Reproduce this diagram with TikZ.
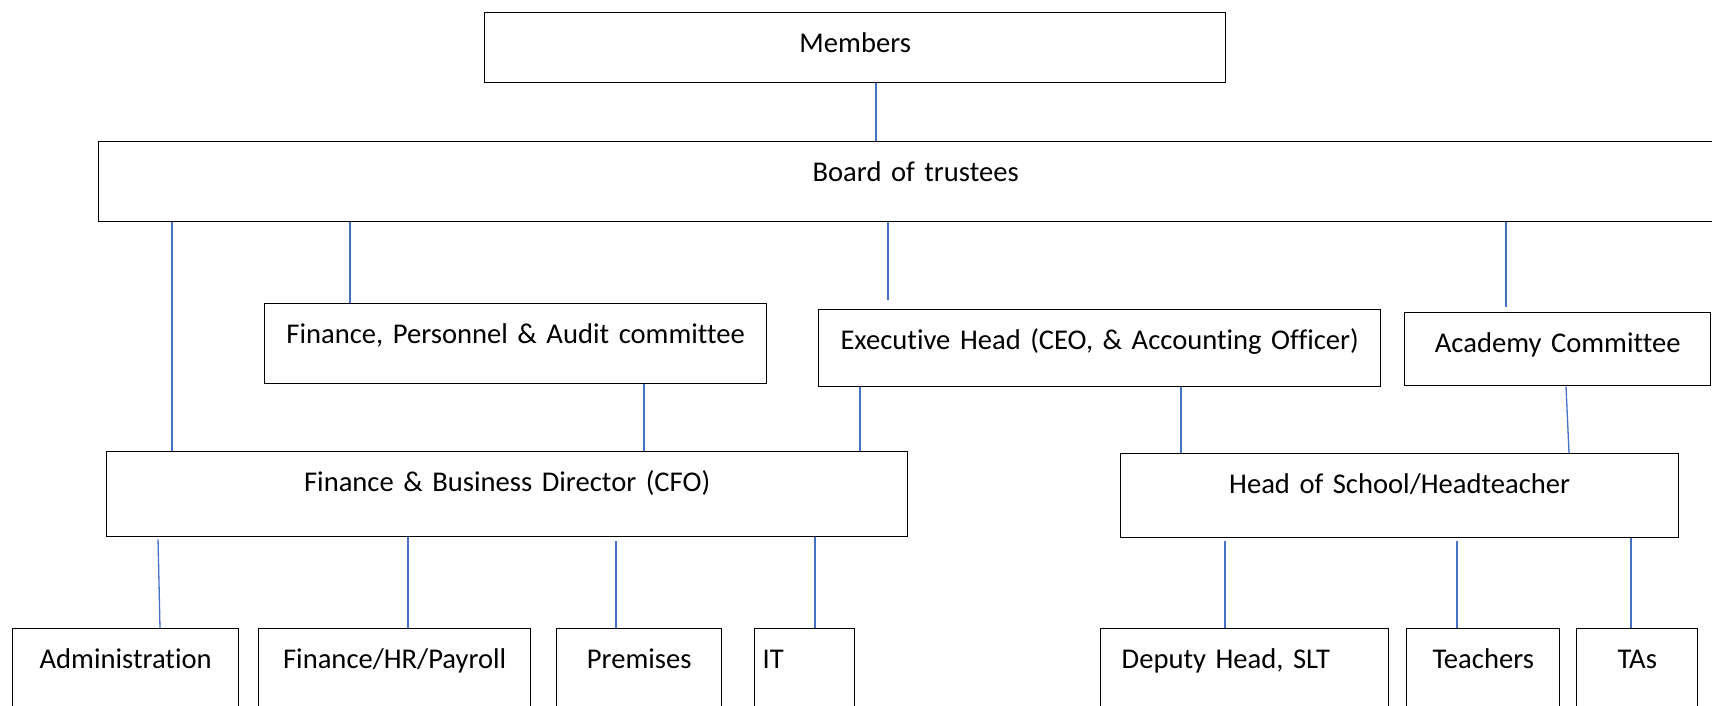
\documentclass[tikz,border=0pt]{standalone}
\usepackage{fontspec}
\setmainfont{Carlito}[Ligatures=CommonOff]
\usepackage{tikz}
\usetikzlibrary{positioning}
\definecolor{linkblue}{HTML}{4472C4}

\begin{document}
\begin{tikzpicture}[x=0.5pt,y=-0.5pt,font=\fontsize{14.3}{16}\selectfont,
    post/.style={draw,rectangle,line width=0.7pt,anchor=north west,inner xsep=0pt,inner ysep=0pt,text height=20pt,align=center},
    link/.style={draw=linkblue,line width=0.65pt}]
    \useasboundingbox (0,0) rectangle (1712,706);
    \path
        (484,12)    node [post,text width=370.5pt,text depth=15pt]  (members) {Members}
        (98,141)    node [post,text width=817pt,text depth=20pt]    (board) {Board of trustees}
        (264,303)   node [post,text width=251pt,text depth=20pt]    (fpa) {Finance, Personnel \& Audit committee}
        (818,309)   node [post,text width=281pt,text depth=18.5pt]  (exec) {Executive Head (CEO, \& Accounting Officer)}
        (1404,312)  node [post,text width=153pt,text depth=16.5pt]  (acad) {Academy Committee}
        (106,451)   node [post,text width=400.5pt,text depth=22.5pt] (cfo) {Finance \& Business Director (CFO)}
        (1120,453)  node [post,text width=279pt,text depth=22pt]    (hos) {Head of School/Headteacher}
        (12,628)    node [post,text width=113pt,text depth=30pt]    (admin) {Administration}
        (258,628)   node [post,text width=136pt,text depth=30pt]    (finhr) {Finance/HR/Payroll}
        (556,628)   node [post,text width=82.5pt,text depth=30pt]   (prem) {Premises}
        (754,628)   node [post,inner xsep=4pt,text width=42pt,align=left,text depth=30pt] (it) {IT}
        (1100,628)  node [post,inner xsep=10.5pt,text width=123pt,align=left,text depth=30pt] (dep) {Deputy Head, SLT}
        (1406,628)  node [post,text width=76.5pt,text depth=30pt]   (teach) {Teachers}
        (1576,628)  node [post,text width=60.5pt,text depth=30pt]   (tas) {TAs}
        ;
    \draw [link] (876,0 |- members.south) -- (876,0 |- board.north);
    \draw [link] (172,0 |- board.south) -- (172,0 |- cfo.north);
    \draw [link] (350,0 |- board.south) -- (350,0 |- fpa.north);
    \draw [link,shorten >=4.5pt] (888,0 |- board.south) -- (888,0 |- exec.north);
    \draw [link,shorten >=2.5pt] (1506,0 |- board.south) -- (1506,0 |- acad.north);
    \draw [link] (644,0 |- fpa.south) -- (644,0 |- cfo.north);
    \draw [link] (860,0 |- exec.south) -- (860,0 |- cfo.north);
    \draw [link] (1181,0 |- exec.south) -- (1181,0 |- hos.north);
    \draw [link] (1566,0 |- acad.south) -- (1569,0 |- hos.north);
    \draw [link,shorten <=1pt] (158,0 |- cfo.south) -- (160,0 |- admin.north);
    \draw [link] (408,0 |- cfo.south) -- (408,0 |- finhr.north);
    \draw [link,shorten <=2pt] (616,0 |- cfo.south) -- (616,0 |- prem.north);
    \draw [link] (815,0 |- cfo.south) -- (815,0 |- it.north);
    \draw [link,shorten <=1.5pt] (1225,0 |- hos.south) -- (1225,0 |- dep.north);
    \draw [link,shorten <=1.5pt] (1457,0 |- hos.south) -- (1457,0 |- teach.north);
    \draw [link] (1631,0 |- hos.south) -- (1631,0 |- tas.north);
\end{tikzpicture}
\end{document}
